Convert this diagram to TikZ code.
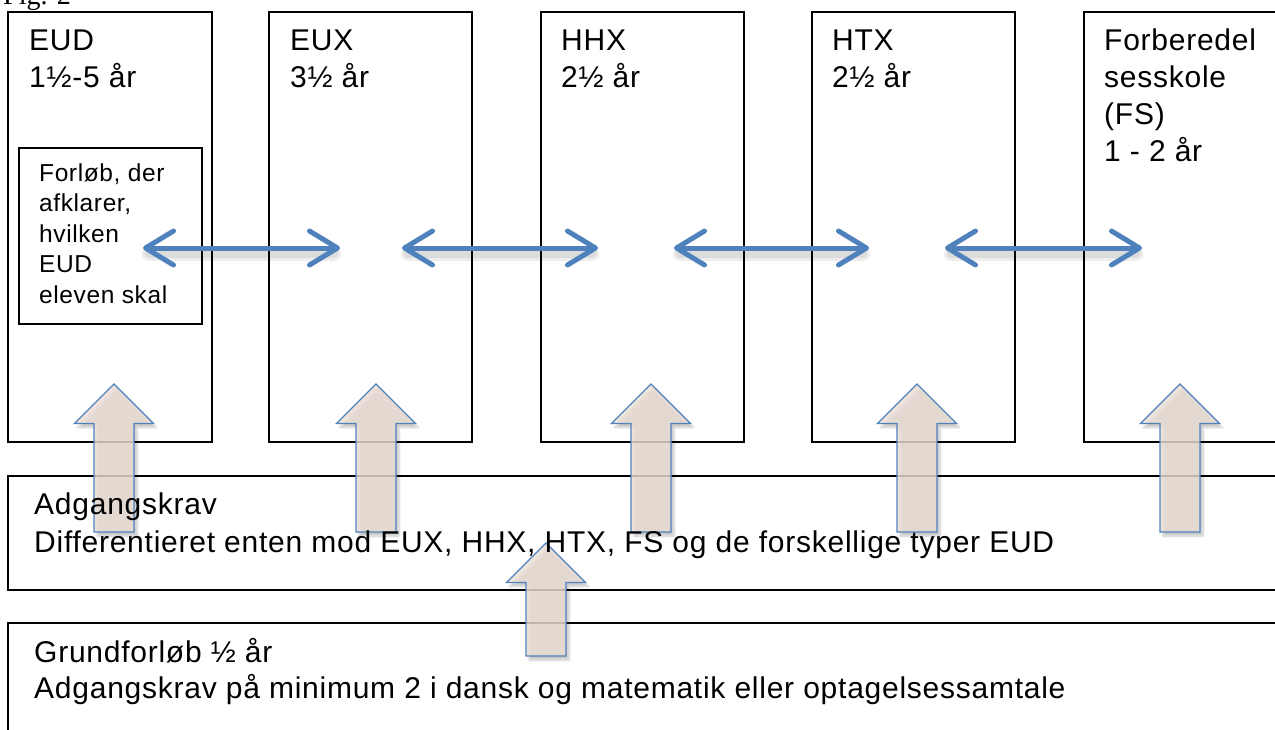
\documentclass[tikz,border=0pt]{standalone}
\usepackage{fontspec}
\setmainfont{Liberation Sans}[LetterSpace=2.5]
\newfontfamily\serifx{Liberation Serif}
\usetikzlibrary{arrows.meta,shadows.blur}
\definecolor{ablue}{RGB}{79,129,189}
\definecolor{afill}{RGB}{235,222,212}
\tikzset{
  box/.style={draw=black, line width=1.6pt, inner sep=0pt, anchor=north west},
  big/.style={font=\fontsize{30}{37}\selectfont, anchor=base west, align=left, inner sep=0pt},
  small/.style={font=\fontsize{24.5}{30.5}\selectfont, anchor=base west, align=left, inner sep=0pt},
  barb/.tip={Straight Barb[length=28pt,width=34pt,round]},
  link/.style={draw=ablue, line width=5pt, barb-barb},
  linkshadow/.style={draw=black, line width=#1, opacity=0.07, line cap=round},
  uparrow/.style={draw=ablue, line width=1.3pt, fill=afill, fill opacity=0.82,
    blur shadow={shadow xshift=3pt, shadow yshift=-4pt, shadow blur steps=8, shadow opacity=22}},
}
\newcommand{\blockup}[3]{%
  \path[uparrow] (#1,#2) -- (#1+39.5,#2+39.5) -- (#1+20,#2+39.5) -- (#1+20,#3)
    -- (#1-20,#3) -- (#1-20,#2+39.5) -- (#1-39.5,#2+39.5) -- cycle;}
\begin{document}
\begin{tikzpicture}[x=1pt,y=-1pt]
\useasboundingbox (0,0) rectangle (1275,729);
\clip (0,0) rectangle (1275,729);
% caption
\node[anchor=base west, inner sep=0pt, font=\serifx\fontsize{28}{30}\selectfont] (fig) at (3,4) {Fig. 2};
% boxes
\node[box, minimum width=204pt, minimum height=430pt] (eud) at (7,11) {};
\node[box, minimum width=203pt, minimum height=430pt] (eux) at (268,11) {};
\node[box, minimum width=203pt, minimum height=430pt] (hhx) at (540,11) {};
\node[box, minimum width=203pt, minimum height=430pt] (htx) at (811,11) {};
\node[box, minimum width=260pt, minimum height=430pt] (fs) at (1083,11) {};
\node[box, minimum width=183pt, minimum height=176pt] (inner) at (18,147) {};
\node[box, minimum width=1300pt, minimum height=114pt] (adg) at (7,475) {};
\node[box, minimum width=1300pt, minimum height=140pt] (grund) at (7,622) {};
% horizontal double arrows
\coordinate (l1) at (143,248); \coordinate (r1) at (340,248);
\coordinate (l2) at (402,248); \coordinate (r2) at (598,248);
\coordinate (l3) at (674,248); \coordinate (r3) at (869,248);
\coordinate (l4) at (945,248); \coordinate (r4) at (1142,248);
\foreach \i in {1,2,3,4}{
  \draw[linkshadow=14pt] ([yshift=-6pt,xshift=6pt]l\i) -- ([yshift=-6pt,xshift=-6pt]r\i);
  \draw[linkshadow=9pt] ([yshift=-5pt,xshift=6pt]l\i) -- ([yshift=-5pt,xshift=-6pt]r\i);
  \draw[link] (l\i) -- (r\i);
}
% block arrows
\blockup{114}{384}{532}
\blockup{376}{384}{532}
\blockup{651}{384}{532}
\blockup{917}{384}{532}
\blockup{1180}{384}{532}
\blockup{546}{543}{656}
% texts (anchor = baseline of the last line)
\node[big] (teud) at (29,87) {EUD\\1½-5 år};
\node[big] (teux) at (290,87) {EUX\\3½ år};
\node[big] (thhx) at (561,87) {HHX\\2½ år};
\node[big] (thtx) at (832,87) {HTX\\2½ år};
\node[big] (tfs) at (1104,161) {Forberedel\\sesskole\\(FS)\\1 - 2 år};
\node[small] (tinner) at (39,303) {Forløb, der\\afklarer,\\hvilken\\EUD\\eleven skal};
\node[big, font=\fontsize{30}{38}\selectfont] (tadg) at (34,552) {Adgangskrav\\Differentieret enten mod EUX, HHX, HTX, FS og de forskellige typer EUD};
\node[big, font=\fontsize{30}{36}\selectfont] (tgrund) at (34,698) {Grundforløb ½ år\\Adgangskrav på minimum 2 i dansk og matematik eller optagelsessamtale};
\end{tikzpicture}
\end{document}
